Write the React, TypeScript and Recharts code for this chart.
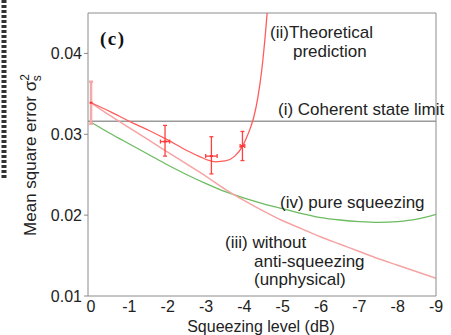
import React from "react";
import { ComposedChart, Line, Scatter, ErrorBar, XAxis, YAxis, ReferenceLine } from "recharts";

// (ii) theoretical prediction
const theoryX = [0, -0.5, -1, -1.5, -2, -2.5, -2.85, -3.05, -3.25, -3.5, -3.75, -3.95, -4.05, -4.15, -4.25, -4.35, -4.45, -4.55, -4.62];
const theoryY = [0.0339, 0.0328, 0.0316, 0.0305, 0.0293, 0.028, 0.0272, 0.0268, 0.0266, 0.0267, 0.0273, 0.0285, 0.0295, 0.0307, 0.0322, 0.0345, 0.0378, 0.0425, 0.0465];

// (iii) without anti-squeezing
const noAntiX = [0, -0.5, -1, -1.5, -2, -2.5, -3, -3.5, -4, -4.5, -5, -5.5, -6, -6.5, -7, -7.5, -8, -8.5, -9];
const noAntiY = [0.0339, 0.0323, 0.0308, 0.0293, 0.0278, 0.0263, 0.0248, 0.0232, 0.0218, 0.0205, 0.0193, 0.0183, 0.0173, 0.0164, 0.0155, 0.0146, 0.0138, 0.013, 0.0122];

// (iv) pure squeezing
const pureX = [0, -0.5, -1, -1.5, -2, -2.5, -3, -3.5, -4, -4.5, -5, -5.5, -6, -6.5, -7, -7.5, -8, -8.5, -9];
const pureY = [0.0315, 0.0301, 0.0288, 0.0275, 0.0262, 0.025, 0.0239, 0.0229, 0.0221, 0.0214, 0.0208, 0.0202, 0.0197, 0.0194, 0.0192, 0.0191, 0.0192, 0.0195, 0.0201];

// (i) coherent state limit
const coherentLimit = 0.0316;

// measured points with error bars
const measX = [0, -1.93, -3.14, -3.95];
const measY = [0.0339, 0.0291, 0.0273, 0.02855];
const measErrLow = [0.0026, 0.0018, 0.0022, 0.0018];
const measErrHigh = [0.0026, 0.002, 0.0024, 0.0018];
const measErrX = [0, 0.12, 0.15, 0.06];

const xTicks = [0, -1, -2, -3, -4, -5, -6, -7, -8, -9];
const yTicks = [0.01, 0.02, 0.03, 0.04];

const toPoints = (xs: number[], ys: number[]) => xs.map((x, i) => ({ x, y: ys[i] }));

const theory = toPoints(theoryX, theoryY);
const noAnti = toPoints(noAntiX, noAntiY);
const pure = toPoints(pureX, pureY);
const measured = measX.map((x, i) => ({
  x,
  y: measY[i],
  ey: [measErrLow[i], measErrHigh[i]],
  ex: measErrX[i],
}));

const axisGray = "#8c8c8c";
const font = "'Liberation Sans', Arial, sans-serif";
const tickStyle = { fill: "#222", fontSize: 16, fontFamily: font };
const xDomain: [number, number] = [-9, 0.08];
const yDomain: [number, number] = [0.01, 0.045];

const dotShape = (p: any) => <rect x={p.cx - 1.5} y={p.cy - 1} width={3} height={2} fill="#ff3333" />;

const App = () => {
  return (
    <div style={{ position: "absolute", left: 0, top: 0, width: 451, height: 335, background: "#fff", fontFamily: font }}>
      <ComposedChart width={451} height={335} margin={{ top: 13, right: 15, bottom: 0, left: 0 }}>
        <XAxis
          dataKey="x"
          type="number"
          domain={xDomain}
          reversed
          allowDataOverflow
          ticks={xTicks}
          tick={tickStyle}
          tickLine={false}
          tickSize={0}
          tickMargin={5}
          height={39}
          stroke={axisGray}
        />
        <XAxis xAxisId="inner" type="number" domain={xDomain} reversed allowDataOverflow ticks={xTicks}
          orientation="bottom" mirror tick={false} tickSize={4} axisLine={false} stroke={axisGray} />
        <XAxis xAxisId="top" type="number" domain={xDomain} reversed allowDataOverflow ticks={xTicks}
          orientation="top" mirror tick={false} tickSize={4} stroke={axisGray} />
        <YAxis
          dataKey="y"
          type="number"
          domain={yDomain}
          allowDataOverflow
          ticks={yTicks}
          tick={tickStyle}
          tickFormatter={(v: number) => v.toFixed(2)}
          tickSize={4}
          tickMargin={2}
          width={88}
          stroke={axisGray}
        />
        <YAxis yAxisId="right" type="number" domain={yDomain} allowDataOverflow ticks={yTicks}
          orientation="right" mirror tick={false} tickSize={4} stroke={axisGray} />

        <ReferenceLine y={coherentLimit} stroke="#999" strokeWidth={1.5} />

        <Line data={pure} dataKey="y" type="monotone" stroke="#6cbb60" strokeWidth={1.3} dot={false} isAnimationActive={false} />
        <Line data={noAnti} dataKey="y" type="monotone" stroke="#f6a3a3" strokeWidth={1.5} dot={false} isAnimationActive={false} />
        <Line data={theory} dataKey="y" type="monotone" stroke="#ff5c5c" strokeWidth={1.3} dot={false} isAnimationActive={false} />

        <Scatter data={measured.slice(0, 1)} dataKey="y" shape={dotShape} isAnimationActive={false}>
          <ErrorBar dataKey="ey" direction="y" width={2} stroke="#f7a8a8" strokeWidth={2.5} />
        </Scatter>
        <Scatter data={measured.slice(1)} dataKey="y" shape={dotShape} isAnimationActive={false}>
          <ErrorBar dataKey="ey" direction="y" width={2} stroke="#ff4040" strokeWidth={1.3} />
          <ErrorBar dataKey="ex" direction="x" width={2} stroke="#ff4040" strokeWidth={1.3} />
        </Scatter>
      </ComposedChart>

      <svg width={451} height={335} style={{ position: "absolute", left: 0, top: 0, pointerEvents: "none" }}>
        <line x1={4} y1={0} x2={4} y2={178} stroke="#333" strokeWidth={5} strokeDasharray="3 2" />
        <text x={100} y={45} fontFamily="'Liberation Serif', 'Times New Roman', serif" fontWeight="bold" fontSize={19} letterSpacing={1.5} fill="#111">(c)</text>
        <g fontFamily={font} fontSize={17} fill="#222">
          <text x={270} y={37.5}>(ii)Theoretical</text>
          <text x={293} y={57}>prediction</text>
          <text x={278} y={115}>(i) Coherent state limit</text>
          <text x={280} y={208}>(iv) pure squeezing</text>
          <text x={225} y={248}>(iii) without</text>
          <text x={254} y={267}>anti-squeezing</text>
          <text x={254} y={285}>(unphysical)</text>
          <text x={261} y={331.5} textAnchor="middle" fontSize={16}>Squeezing level (dB)</text>
          <text transform="translate(36,155) rotate(-90)" textAnchor="middle">
            <tspan>Mean square error σ</tspan>
            <tspan dy={-7} fontSize={12}>2</tspan>
            <tspan dx={-7} dy={12} fontSize={12}>s</tspan>
          </text>
        </g>
      </svg>
    </div>
  );
};

export default App;
